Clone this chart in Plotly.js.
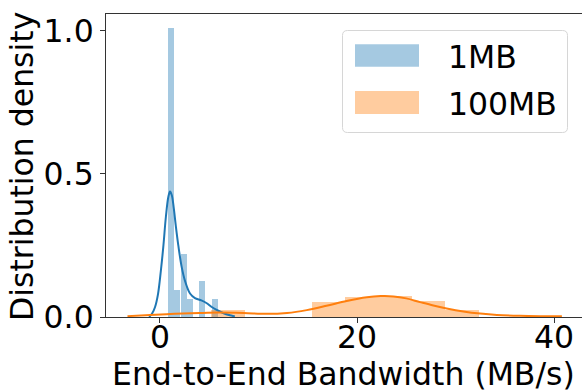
<!DOCTYPE html>
<html>
<head>
<meta charset="utf-8">
<script src="https://cdn.plot.ly/plotly-3.0.1.min.js"></script>
<style>
  html, body { margin: 0; padding: 0; background: #ffffff; }
  #chart { width: 582px; height: 392px; }
</style>
</head>
<body>
<div id="chart"></div>
<script>
// ---------- data ----------
const seriesNames = ["1MB", "100MB"];

// 1MB histogram (density), bin centres and bin width
const binCenters1MB = [1.13, 1.76, 2.40, 3.03, 3.67, 4.30, 4.94, 5.57];
const density1MB    = [1.01, 0.095, 0.22, 0.063, 0, 0.126, 0, 0.063];
const binWidth1MB   = 0.635;

// 100MB histogram (density)
const binCenters100MB = [6.91, 10.30, 13.69, 17.08, 20.47, 23.87, 27.26, 30.65];
const density100MB    = [0.024, 0, 0, 0.052, 0.071, 0.073, 0.057, 0.024];
const binWidth100MB   = 3.39;

// KDE curves
const kdeX1MB = [-1.1, -0.8, -0.5, -0.2, 0.1, 0.35, 0.6, 0.85, 1.02, 1.2, 1.4, 1.6, 1.86, 2.2, 2.55, 3.05, 3.55, 4.2, 4.75, 5.25, 5.75, 6.4, 7.1, 7.6];
const kdeY1MB = [0.0, 0.012, 0.035, 0.08, 0.165, 0.25, 0.35, 0.42, 0.438, 0.425, 0.38, 0.32, 0.25, 0.175, 0.125, 0.082, 0.066, 0.058, 0.048, 0.035, 0.025, 0.014, 0.006, 0.002];

const kdeX100MB = [-3.3, -1.0, 1.5, 4.0, 6.0, 8.5, 10.8, 12.9, 14.9, 16.9, 18.95, 21.0, 22.4, 23.7, 25.0, 26.4, 27.75, 29.1, 30.8, 32.5, 34.2, 36.5, 38.6, 40.8];
const kdeY100MB = [0.003, 0.007, 0.011, 0.014, 0.0155, 0.014, 0.011, 0.014, 0.024, 0.039, 0.056, 0.069, 0.073, 0.072, 0.065, 0.052, 0.040, 0.030, 0.0196, 0.012, 0.007, 0.004, 0.003, 0.003];

const xTicks = [0, 20, 40];
const yTicks = [0, 0.5, 1.0];
const xTitle = "End-to-End Bandwidth (MB/s)";
const yTitle = "Distribution density";

// ---------- styling ----------
const BLUE = "#1f77b4", ORANGE = "#ff7f0e";
const BLUE_FILL = "rgba(31,119,180,0.4)", ORANGE_FILL = "rgba(255,127,14,0.4)";
const FONT = "DejaVu Sans, sans-serif";
const FS = 31.5;

// plot box in pixels
const L = 106, T = 14, W = 476, H = 303;
const px = v => (v - L) / W;
const py = v => (T + H - v) / H;

function roundRect(x0, y0, x1, y1, r) {
  const X0 = px(x0), X1 = px(x1), Y0 = py(y0), Y1 = py(y1);
  const rx = r / W, ry = r / H;
  return `M${X0 + rx},${Y0} L${X1 - rx},${Y0} Q${X1},${Y0} ${X1},${Y0 - ry} ` +
         `L${X1},${Y1 + ry} Q${X1},${Y1} ${X1 - rx},${Y1} ` +
         `L${X0 + rx},${Y1} Q${X0},${Y1} ${X0},${Y1 + ry} ` +
         `L${X0},${Y0 - ry} Q${X0},${Y0} ${X0 + rx},${Y0} Z`;
}

const traces = [
  { type: "bar", x: binCenters1MB, y: density1MB, width: binWidth1MB,
    marker: { color: BLUE_FILL, line: { width: 0 } }, name: seriesNames[0], showlegend: false },
  { type: "scatter", mode: "lines", x: kdeX1MB, y: kdeY1MB,
    line: { color: BLUE, width: 2, shape: "spline", smoothing: 1 }, showlegend: false },
  { type: "bar", x: binCenters100MB, y: density100MB, width: binWidth100MB,
    marker: { color: ORANGE_FILL, line: { width: 0 } }, name: seriesNames[1], showlegend: false },
  { type: "scatter", mode: "lines", x: kdeX100MB, y: kdeY100MB,
    line: { color: ORANGE, width: 2, shape: "spline", smoothing: 1 }, showlegend: false }
];

const layout = {
  width: 582, height: 392,
  margin: { l: L, r: 582 - L - W, t: T, b: 392 - T - H, pad: 0 },
  paper_bgcolor: "#ffffff", plot_bgcolor: "#ffffff",
  barmode: "overlay", bargap: 0,
  showlegend: false,
  font: { family: FONT, size: FS, color: "#000000" },
  xaxis: {
    range: [-5.48, 42.84], tickvals: xTicks, ticktext: xTicks.map(String),
    showgrid: false, zeroline: false,
    showline: true, linecolor: "#333333", linewidth: 1, mirror: true,
    ticks: "outside", ticklen: 5, tickwidth: 1, tickcolor: "#333333",
    ticklabelstandoff: -13,
    tickfont: { family: FONT, size: FS, color: "#000000" }
  },
  yaxis: {
    range: [0, 1.058], tickvals: yTicks, ticktext: yTicks.map(v => v.toFixed(1)),
    showgrid: false, zeroline: false,
    showline: true, linecolor: "#333333", linewidth: 1, mirror: false,
    ticks: "outside", ticklen: 5, tickwidth: 1, tickcolor: "#333333",
    tickfont: { family: FONT, size: FS, color: "#000000" }
  },
  shapes: [
    { type: "path", xref: "paper", yref: "paper", path: roundRect(342.5, 30.5, 567.5, 132.5, 5),
      line: { color: "#d6d6d6", width: 1 }, fillcolor: "rgba(255,255,255,0.8)", layer: "above" },
    { type: "rect", xref: "paper", yref: "paper", x0: px(355), x1: px(419), y0: py(66.7), y1: py(44.3),
      line: { width: 0 }, fillcolor: BLUE_FILL, layer: "above" },
    { type: "rect", xref: "paper", yref: "paper", x0: px(355), x1: px(419), y0: py(114), y1: py(91),
      line: { width: 0 }, fillcolor: ORANGE_FILL, layer: "above" }
  ],
  annotations: [
    { xref: "paper", yref: "paper", x: px(446), y: py(57), xanchor: "left", yanchor: "middle",
      text: seriesNames[0], showarrow: false, font: { family: FONT, size: FS, color: "#000" } },
    { xref: "paper", yref: "paper", x: px(446), y: py(104), xanchor: "left", yanchor: "middle",
      text: seriesNames[1], showarrow: false, font: { family: FONT, size: FS, color: "#000" } },
    { xref: "paper", yref: "paper", x: px(343), y: py(374), xanchor: "center", yanchor: "middle",
      text: xTitle, showarrow: false, font: { family: FONT, size: FS, color: "#000" } },
    { xref: "paper", yref: "paper", x: px(22), y: py(167), xanchor: "center", yanchor: "middle",
      textangle: -90, text: yTitle, showarrow: false, font: { family: FONT, size: FS, color: "#000" } }
  ]
};

Plotly.newPlot("chart", traces, layout, { staticPlot: true, displayModeBar: false });
</script>
</body>
</html>
